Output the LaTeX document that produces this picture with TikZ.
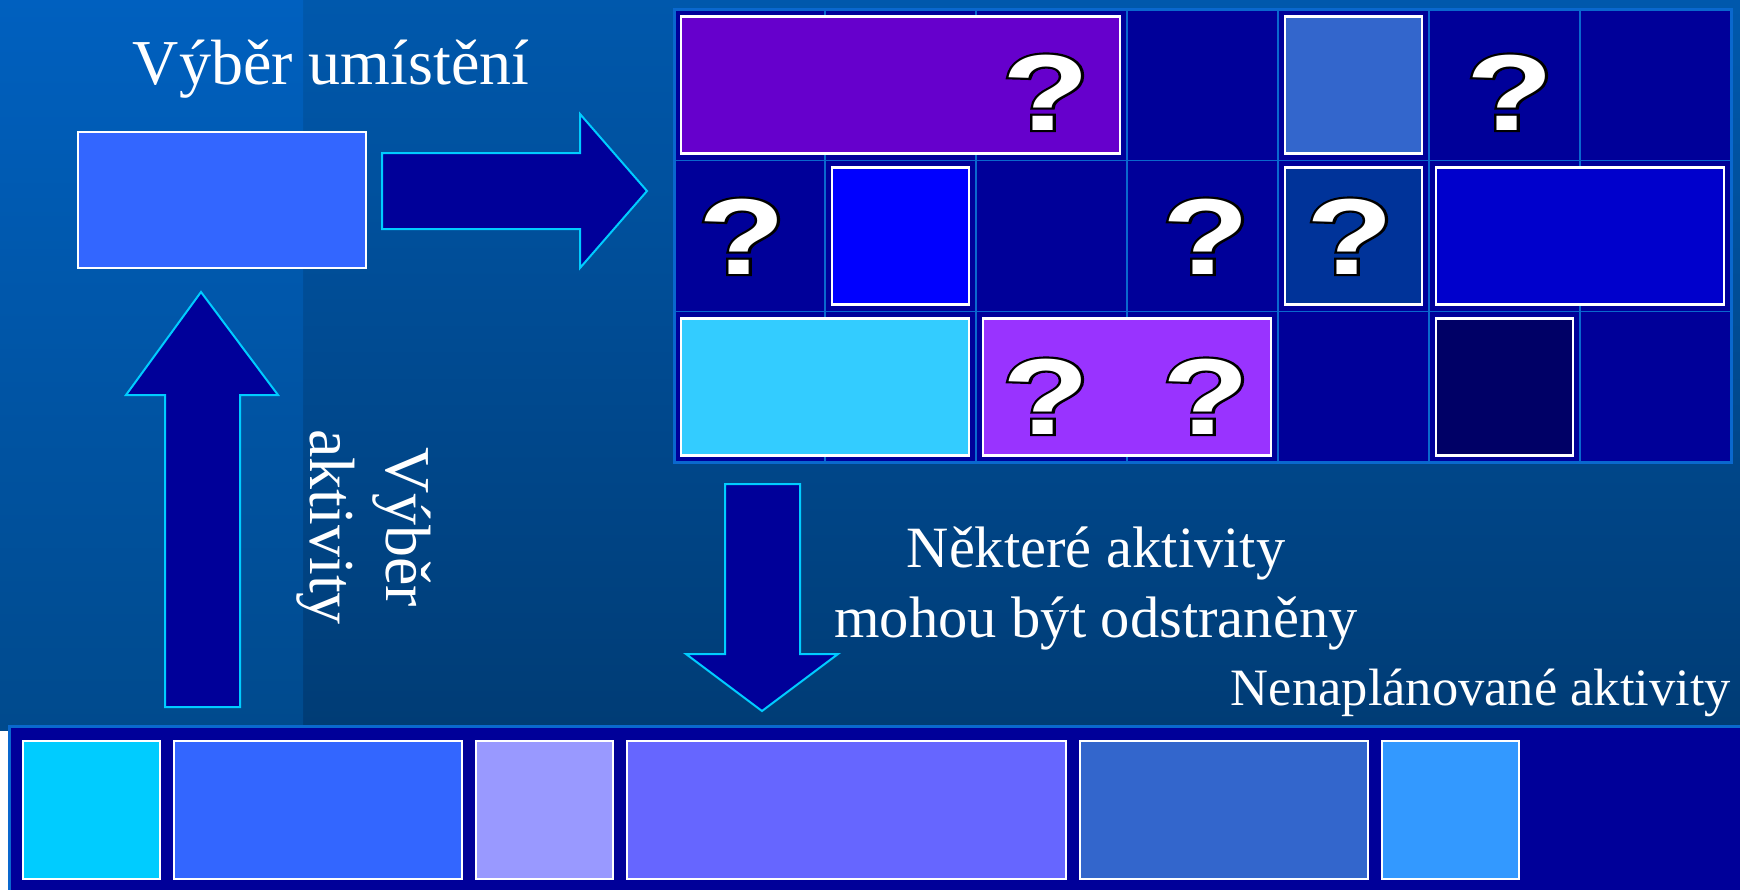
\documentclass[tikz,border=0pt]{standalone}
\usepackage{fontspec}
\setmainfont{Liberation Serif}
\newfontfamily\qfont{Liberation Sans}
\newfontfamily\qfontout{Liberation Sans}[FakeBold=4]
\usetikzlibrary{calc}
\definecolor{bgtop}{HTML}{0058AC}
\definecolor{bgbot}{HTML}{003C75}
\definecolor{striptop}{HTML}{0060BF}
\definecolor{stripbot}{HTML}{004A8D}
\definecolor{cellfill}{HTML}{000099}
\definecolor{gridline}{HTML}{0A68CE}
\definecolor{arrowline}{HTML}{00CCFF}
\definecolor{cPurple}{HTML}{6600CC}
\definecolor{cSteel}{HTML}{3366CC}
\definecolor{cBlue}{HTML}{0000FF}
\definecolor{cDark}{HTML}{003399}
\definecolor{cMid}{HTML}{0000CC}
\definecolor{cCyan}{HTML}{33CCFF}
\definecolor{cViolet}{HTML}{9933FF}
\definecolor{cNavy}{HTML}{000066}
\definecolor{cAqua}{HTML}{00CCFF}
\definecolor{cRoyal}{HTML}{3366FF}
\definecolor{cLav}{HTML}{9999FF}
\definecolor{cPeri}{HTML}{6666FF}
\definecolor{cSky}{HTML}{3399FF}
\tikzset{
  actbox/.style={draw=white, line width=2.5pt, inner sep=0pt, outer sep=0pt, anchor=north west},
  blockarrow/.style={fill=cellfill, draw=arrowline, line width=2pt, line join=miter},
  lbl/.style={text=white, inner sep=0pt, anchor=base},
  qmark/.style={inner sep=0pt, anchor=base, text=white, font=\qfont\bfseries\fontsize{108}{108}\selectfont},
  qshadow/.style={inner sep=0pt, anchor=base, text=black, font=\qfontout\bfseries\fontsize{108}{108}\selectfont},
}
\newcommand\abox[6]{\node[actbox, fill=#6, minimum width={(#4-#2)*1pt}, minimum height={(#5-#3)*1pt}] (#1) at (#2,#3) {};}
\newcommand\qmk[3]{%
  \node[qshadow] (#1o) at (#2,#3) {\scalebox{1.32}[1]{?}};
  \node[qmark] (#1) at (#2,#3) {\scalebox{1.32}[1]{?}};}
\begin{document}
\begin{tikzpicture}[x=1pt,y=-1pt]
\useasboundingbox (0,0) rectangle (1740,889);
% background
\shade[top color=bgtop, bottom color=bgbot] (0,0) rectangle (1740,730);
\shade[top color=striptop, bottom color=stripbot] (0,0) rectangle (303,730);
% grid
\fill[cellfill] (674,9.5) rectangle (1731,462.5);
\foreach \i in {1,...,6} \draw[gridline, line width=1.5pt] (674+151*\i,9.5) -- (674+151*\i,462.5);
\foreach \j in {1,2} \draw[gridline, line width=1.5pt] (674,9.5+151*\j) -- (1731,9.5+151*\j);
\draw[gridline, line width=3pt] (674,9.5) rectangle (1731,462.5);
% grid activities
\abox{gP1}{681}{16.5}{1120}{153.5}{cPurple}
\abox{gS1}{1285}{16.5}{1422}{153.5}{cSteel}
\abox{gB2}{832}{167.5}{969}{304.5}{cBlue}
\abox{gD2}{1285}{167.5}{1422}{304.5}{cDark}
\abox{gB3}{1436}{167.5}{1724}{304.5}{cMid}
\abox{gC1}{681}{318.5}{969}{455.5}{cCyan}
\abox{gP2}{983}{318.5}{1271}{455.5}{cViolet}
\abox{gN1}{1436}{318.5}{1573}{455.5}{cNavy}
% question marks
\qmk{q1}{1046}{130}
\qmk{q2}{1510}{130}
\qmk{q3}{742}{274}
\qmk{q4}{1206}{274}
\qmk{q5}{1350}{274}
\qmk{q6}{1046}{434}
\qmk{q7}{1206}{434}
% selected activity
\abox{sel}{78}{132}{366}{268}{cRoyal}
% block arrows
\draw[blockarrow] (382,153) -- (580,153) -- (580,114) -- (647,191) -- (580,268) -- (580,229) -- (382,229) -- cycle;
\draw[blockarrow] (165,707) -- (165,395) -- (126,395) -- (201,292) -- (278,395) -- (240,395) -- (240,707) -- cycle;
\draw[blockarrow] (725,484) -- (800,484) -- (800,654) -- (838,654) -- (762,711) -- (686,654) -- (725,654) -- cycle;
% unscheduled panel
\fill[cellfill] (9,726) rectangle (1745,893);
\draw[gridline, line width=3pt] (9,893) -- (9,726) -- (1745,726);
\abox{u1}{23}{741}{160}{879}{cAqua}
\abox{u2}{174}{741}{462}{879}{cRoyal}
\abox{u3}{476}{741}{613}{879}{cLav}
\abox{u4}{627}{741}{1066}{879}{cPeri}
\abox{u5}{1080}{741}{1368}{879}{cSteel}
\abox{u6}{1382}{741}{1519}{879}{cSky}
% texts
\node[lbl, font=\fontsize{64}{76}\selectfont] (t1) at (331,84) {Výběr umístění};
\node[lbl, rotate=-90, font=\fontsize{64}{76}\selectfont] (t2) at (386,527) {Výběr};
\node[lbl, rotate=-90, font=\fontsize{64}{76}\selectfont] (t3) at (310,527) {aktivity};
\node[lbl, font=\fontsize{58.5}{68}\selectfont] (t4) at (1096,567) {Některé aktivity};
\node[lbl, font=\fontsize{58.5}{68}\selectfont] (t5) at (1096,637) {mohou být odstraněny};
\node[lbl, font=\fontsize{52.5}{60}\selectfont] (t6) at (1481,705) {Nenaplánované aktivity};
\end{tikzpicture}
\end{document}
